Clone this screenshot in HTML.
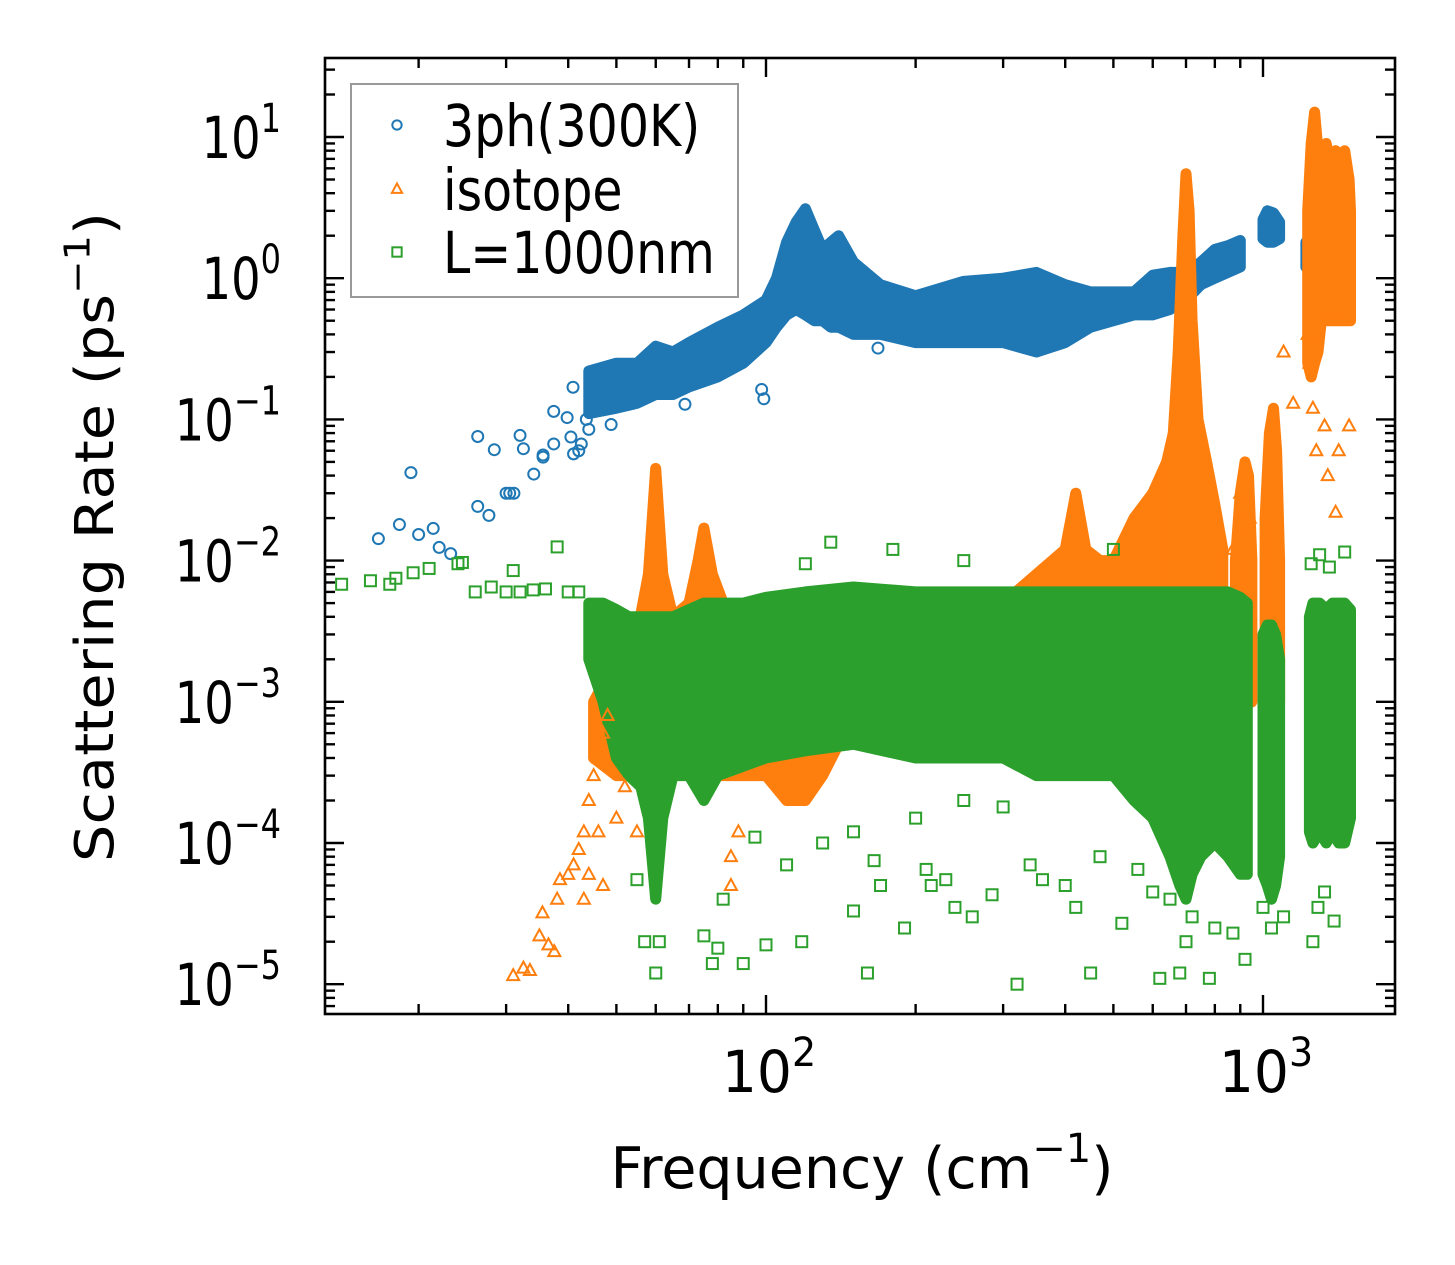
<!DOCTYPE html>
<html><head><meta charset="utf-8">
<style>
html,body{margin:0;padding:0;background:#fff;}
svg{display:block;}
text{font-family:"DejaVu Sans","Liberation Sans",sans-serif;fill:#000;}
</style></head>
<body>
<svg id="chart" width="1455" height="1265" viewBox="0 0 1455 1265" xmlns="http://www.w3.org/2000/svg">
<rect width="1455" height="1265" fill="#fff"/>
<g id="bands"></g>
<g id="points"></g>
<g id="axes"></g>
</svg>
<script>
// ---- data ----
const xTickLabels = ["2","3"];
const yTickLabels = ["1","0","−1","−2","−3","−4","−5"];
const yTickExps = [1,0,-1,-2,-3,-4,-5];
const xTickExps = [2,3];

// blue (3ph 300K) sparse points
const blueFreq = [16.6,18.3,19.3,20.0,21.4,22.0,23.2,26.3,26.3,27.7,28.4,30.0,30.5,31.1,32.0,32.5,34.1,35.6,35.6,37.4,37.4,39.8,40.9,40.5,42.5,43.5,42,46.1,48.8,53.5,68.7,98,99,132,168,44,41];
const blueRate = [0.0143,0.018,0.042,0.0153,0.0169,0.0124,0.0112,0.0757,0.0242,0.0209,0.061,0.030,0.030,0.030,0.077,0.062,0.041,0.056,0.054,0.114,0.067,0.103,0.169,0.075,0.067,0.1,0.06,0.174,0.092,0.139,0.128,0.163,0.14,0.51,0.32,0.085,0.057];
// blue dense bands
const blueBandFreq = [44,50,55,60,65,70,80,90,100,105,110,115,120,125,130,135,140,150,170,200,250,300,350,400,450,500,550,600,650,700,750,800,850,900];
const blueBandLo = [0.11,0.12,0.13,0.15,0.15,0.17,0.2,0.25,0.35,0.45,0.55,0.6,0.55,0.5,0.5,0.45,0.45,0.4,0.4,0.35,0.35,0.35,0.3,0.35,0.45,0.5,0.55,0.55,0.6,0.7,0.9,1.0,1.1,1.2];
const blueBandHi = [0.22,0.25,0.25,0.33,0.3,0.35,0.45,0.55,0.7,1.0,1.8,2.5,3.1,2.2,1.6,1.8,2.0,1.3,0.9,0.75,0.95,1.0,1.1,0.9,0.8,0.8,0.8,1.05,1.1,1.1,1.3,1.6,1.7,1.85];
const blueBand2Freq = [1000,1020,1050,1080];
const blueBand2Lo = [1.9,1.8,1.8,1.9];
const blueBand2Hi = [2.6,3.0,2.9,2.5];
const blueBand3Freq = [1220,1300,1400,1500];
const blueBand3Lo = [1.2,1.2,1.3,1.5];
const blueBand3Hi = [1.8,2.0,2.3,2.4];

// orange (isotope) sparse points
const orangeFreq = [31,32.5,33.5,35,35.5,36.5,37.5,38,38.5,40,41,42,43,44,45,46,47,48,43,44,46,47,50,52,55,85,88,85,1100,1150,1240,1260,1280,1330,1350,1400,1420,1490,1230,870,900,940];
const orangeRate = [1.15e-5,1.3e-5,1.25e-5,2.2e-5,3.2e-5,1.9e-5,1.7e-5,4e-5,5.5e-5,6e-5,7e-5,9e-5,1.2e-4,2e-4,3e-4,4e-4,6e-4,8e-4,4e-5,6e-5,1.2e-4,5e-5,1.5e-4,2.5e-4,1.2e-4,8e-5,1.2e-4,5e-5,0.3,0.13,0.25,0.12,0.06,0.09,0.04,0.022,0.06,0.09,0.4,0.012,0.03,0.02];
// orange dense bands
const orBand1Freq = [45,50,55,58,60,62,65,70,73,75,78,82,90,100,110,120,130,140];
const orBand1Lo = [4e-4,3e-4,3e-4,3e-4,2e-4,3e-4,4e-4,4e-4,3e-4,3e-4,3e-4,3e-4,3e-4,3e-4,2e-4,2e-4,3e-4,5e-4];
const orBand1Hi = [1e-3,2e-3,3e-3,8e-3,0.045,8e-3,4e-3,5e-3,0.01,0.017,0.008,0.005,3e-3,2e-3,1.5e-3,1.5e-3,1.5e-3,1.5e-3];
const orBand2Freq = [150,200,250,300,350,400,420,440,470,500,550,600,640,660];
const orBand2Lo = [5e-4,5e-4,5e-4,5e-4,5e-4,5e-4,5e-4,5e-4,5e-4,5e-4,5e-4,5e-4,5e-4,5e-4];
const orBand2Hi = [2e-3,2e-3,3e-3,5e-3,8e-3,0.012,0.03,0.012,0.01,0.01,0.02,0.03,0.05,0.08];
const orBand3Freq = [660,675,690,700,710,720,740,770,800,830];
const orBand3Lo = [5e-4,5e-4,5e-4,5e-4,5e-4,5e-4,5e-4,5e-4,5e-4,5e-4];
const orBand3Hi = [0.08,0.3,2.0,5.5,3.0,0.5,0.1,0.05,0.025,0.012];
const orBand4Freq = [880,900,920,935,950];
const orBand4Lo = [1e-3,1e-3,1e-3,1e-3,1e-3];
const orBand4Hi = [0.01,0.03,0.05,0.04,0.01];
const orBand5Freq = [1010,1030,1050,1065,1080];
const orBand5Lo = [1e-3,1e-3,1e-3,1e-3,1e-3];
const orBand5Hi = [0.02,0.08,0.12,0.06,0.01];
const orBand6Freq = [1230,1250,1270,1290,1310,1340,1370,1400,1430,1460,1490,1500];
const orBand6Lo = [0.25,0.2,0.25,0.3,0.5,0.5,0.5,0.5,0.5,0.5,0.5,0.5];
const orBand6Hi = [3,9,15,8,5,9,6,8,4,8,5,3];

// green (L=1000nm) sparse points
const greenFreq = [14,16,17.5,18,19.5,21,24,24.5,26,28,30,31,32,34,36,38,40,42,55,57,60,61,75,78,80,82,90,100,110,118,150,160,165,170,190,210,215,230,240,260,285,320,340,360,400,420,450,470,520,560,600,620,650,680,700,720,780,800,870,920,1000,1040,1260,1290,1330,1390,150,200,250,300,130,95,135,120,180,250,500,1300,1460,1250,1360,1100];
const greenRate = [0.0068,0.0072,0.0068,0.0075,0.0082,0.0088,0.0095,0.0097,0.006,0.0065,0.006,0.0085,0.006,0.0062,0.0063,0.0125,0.006,0.006,5.5e-5,2e-5,1.2e-5,2e-5,2.2e-5,1.4e-5,1.8e-5,4e-5,1.4e-5,1.9e-5,7e-5,2e-5,3.3e-5,1.2e-5,7.5e-5,5e-5,2.5e-5,6.5e-5,5e-5,5.5e-5,3.5e-5,3e-5,4.3e-5,1e-5,7e-5,5.5e-5,5e-5,3.5e-5,1.2e-5,8e-5,2.7e-5,6.5e-5,4.5e-5,1.1e-5,4e-5,1.2e-5,2e-5,3e-5,1.1e-5,2.5e-5,2.3e-5,1.5e-5,3.5e-5,2.5e-5,2e-5,3.5e-5,4.5e-5,2.8e-5,1.2e-4,1.5e-4,2e-4,1.8e-4,1e-4,1.1e-4,0.0135,0.0095,0.012,0.01,0.012,0.011,0.0115,0.0095,0.009,3e-5];
// green dense bands
const grBand1Freq = [44,47,50,53,56,58,60,62,65,70,75,80,90,100,120,150,200,250,300,350,400,450,500,550,600,650,680,700,720,750,800,850,900,930];
const grBand1Lo = [2e-3,1e-3,4e-4,3e-4,2.5e-4,1.5e-4,4e-5,1.5e-4,3e-4,3e-4,2e-4,3e-4,3.5e-4,4e-4,4.5e-4,5e-4,4e-4,4e-4,4e-4,3e-4,3e-4,3e-4,3e-4,2e-4,1.5e-4,8e-5,5e-5,4e-5,6e-5,8e-5,1e-4,8e-5,6e-5,6e-5];
const grBand1Hi = [5e-3,5e-3,4.5e-3,4e-3,4e-3,4e-3,4e-3,4e-3,4e-3,4.5e-3,5e-3,5e-3,5e-3,5.5e-3,6e-3,6.5e-3,6e-3,6e-3,6e-3,6e-3,6e-3,6e-3,6e-3,6e-3,6e-3,6e-3,6e-3,6e-3,6e-3,6e-3,6e-3,6e-3,5.5e-3,5e-3];
const grBand2Freq = [1000,1020,1040,1060,1080];
const grBand2Lo = [6e-5,5e-5,4e-5,5e-5,8e-5];
const grBand2Hi = [3e-3,3.5e-3,3.5e-3,3e-3,2e-3];
const grBand3Freq = [1240,1260,1300,1340,1380,1420,1460,1500];
const grBand3Lo = [1.2e-4,1e-4,1.2e-4,1e-4,1.2e-4,1e-4,1e-4,1.5e-4];
const grBand3Hi = [4e-3,5e-3,5e-3,4.5e-3,5e-3,5e-3,5e-3,4.5e-3];

// ---- axes ----
const PL=325, PR=1395, PT=58, PB=1014;
const X2=766, XDEC=497;
const Y1=137, YDEC=141.2;
function xs(f){ return X2 + (Math.log10(f)-2)*XDEC; }
function ys(r){ return Y1 + (1-Math.log10(r))*YDEC; }

const NS="http://www.w3.org/2000/svg";
function mk(tag, attrs, parent){
  const e=document.createElementNS(NS,tag);
  for(const k in attrs) e.setAttribute(k,attrs[k]);
  parent.appendChild(e); return e;
}
const C_B="#1f77b4", C_O="#ff7f0e", C_G="#2ca02c";
const bands=document.getElementById('bands');
const pts=document.getElementById('points');
const axes=document.getElementById('axes');

function drawBand(fr, lo, hi, color, name){
  let d="";
  for(let i=0;i<fr.length;i++) d+=(i?"L":"M")+xs(fr[i]).toFixed(1)+","+ys(hi[i]).toFixed(1);
  for(let i=fr.length-1;i>=0;i--) d+="L"+xs(fr[i]).toFixed(1)+","+ys(lo[i]).toFixed(1);
  d+="Z";
  const p=mk('path',{d:d,fill:color,stroke:color,'stroke-width':11,'stroke-linejoin':'round'},bands);
  
  
}
function marker(kind, x, y, color, parent, sc){
  let e;
  if(kind==='o') e=mk('circle',{cx:x,cy:y,r:5.5*sc,fill:'none',stroke:color,'stroke-width':2},parent);
  else if(kind==='^') e=mk('polygon',{points:`${x},${y-6.5*sc} ${x-6*sc},${y+4.5*sc} ${x+6*sc},${y+4.5*sc}`,fill:'none',stroke:color,'stroke-width':2},parent);
  else e=mk('rect',{x:x-5.5*sc,y:y-5.5*sc,width:11*sc,height:11*sc,fill:'none',stroke:color,'stroke-width':2},parent);
  return e;
}
function drawPoints(fr, rt, kind, color, name){
  for(let i=0;i<fr.length;i++){
    const e=marker(kind, xs(fr[i]), ys(rt[i]), color, pts, 1);
    
    
  }
}
// blue
drawBand(blueBandFreq,blueBandLo,blueBandHi,C_B,'3ph-band-main');
drawBand(blueBand2Freq,blueBand2Lo,blueBand2Hi,C_B,'3ph-band-1000');
drawBand(blueBand3Freq,blueBand3Lo,blueBand3Hi,C_B,'3ph-band-1300');
drawPoints(blueFreq,blueRate,'o',C_B,'3ph-point');
// orange
drawBand(orBand1Freq,orBand1Lo,orBand1Hi,C_O,'isotope-band-low');
drawBand(orBand2Freq,orBand2Lo,orBand2Hi,C_O,'isotope-band-mid');
drawBand(orBand3Freq,orBand3Lo,orBand3Hi,C_O,'isotope-band-peak700');
drawBand(orBand4Freq,orBand4Lo,orBand4Hi,C_O,'isotope-band-900');
drawBand(orBand5Freq,orBand5Lo,orBand5Hi,C_O,'isotope-band-1050');
drawBand(orBand6Freq,orBand6Lo,orBand6Hi,C_O,'isotope-band-1300');
drawPoints(orangeFreq,orangeRate,'^',C_O,'isotope-point');
// green
drawBand(grBand1Freq,grBand1Lo,grBand1Hi,C_G,'boundary-band-main');
drawBand(grBand2Freq,grBand2Lo,grBand2Hi,C_G,'boundary-band-1050');
drawBand(grBand3Freq,grBand3Lo,grBand3Hi,C_G,'boundary-band-1300');
drawPoints(greenFreq,greenRate,'s',C_G,'boundary-point');

// clip: white out anything beyond frame
mk('rect',{x:0,y:0,width:1455,height:PT,fill:'#fff'},axes);
mk('rect',{x:PR,y:0,width:60,height:1265,fill:'#fff'},axes);

// frame
const fr=mk('rect',{x:PL,y:PT,width:PR-PL,height:PB-PT,fill:'none',stroke:'#000','stroke-width':2.6},axes);



// ticks
function tick(x1,y1,x2,y2){ mk('line',{x1:x1,y1:y1,x2:x2,y2:y2,stroke:'#000','stroke-width':2.4},axes); }
const MAJ=19, MIN=10;
for(let e=1;e<=3;e++){
  for(let m=1;m<10;m++){
    const x=xs(m*Math.pow(10,e));
    if(x<PL||x>PR) continue;
    const L=(m===1)?MAJ:MIN;
    tick(x,PB,x,PB-L); tick(x,PT,x,PT+L);
  }
}
for(let e=-6;e<=1;e++){
  for(let m=1;m<10;m++){
    const y=ys(m*Math.pow(10,e));
    if(y<PT||y>PB) continue;
    const L=(m===1)?MAJ:MIN;
    tick(PL,y,PL+L,y); tick(PR,y,PR-L,y);
  }
}
// tick labels
function powLabel(cx, baseY, exp, anchor, name, sx){
  const t=mk('text',{'font-size':58,'text-anchor':anchor,transform:`translate(${cx},${baseY}) scale(${sx},1)`},axes);
  
  
  t.appendChild(document.createTextNode('10'));
  const s=mk('tspan',{'font-size':40,dy:-26},t);
  s.textContent=exp;
  return t;
}
for(let i=0;i<yTickExps.length;i++){
  powLabel(281, ys(Math.pow(10,yTickExps[i]))+21, yTickLabels[i], 'end', 'y-tick-label', 0.8);
}
for(let i=0;i<xTickExps.length;i++){
  powLabel(xs(Math.pow(10,xTickExps[i]))+3, 1092, xTickLabels[i], 'middle', 'x-tick-label', 0.95);
}
// axis titles
const xt=mk('text',{'font-size':57,'text-anchor':'middle',transform:'translate(862,1188) scale(1.0,1)'},axes);


xt.appendChild(document.createTextNode('Frequency (cm'));
let sp=mk('tspan',{'font-size':40,dy:-26},xt); sp.textContent='−1';
sp=mk('tspan',{dy:26},xt); sp.textContent=')';

const yt=mk('text',{'font-size':59,'text-anchor':'middle',transform:'translate(113,537) rotate(-90) scale(1,0.9)'},axes);


yt.appendChild(document.createTextNode('Scattering Rate (ps'));
sp=mk('tspan',{'font-size':40,dy:-26},yt); sp.textContent='−1';
sp=mk('tspan',{dy:26},yt); sp.textContent=')';

// legend
const lg=mk('g',{},axes);


mk('rect',{x:351,y:84,width:387,height:213,fill:'#fff','fill-opacity':0.85,stroke:'#999','stroke-width':2},lg);
const legLabels=['3ph(300K)','isotope','L=1000nm'];
const legKinds=['o','^','s'];
const legColors=[C_B,C_O,C_G];
const legY=[125,189,252];
for(let i=0;i<3;i++){
  const g=mk('g',{},lg);
  
  
  marker(legKinds[i],397,legY[i],legColors[i],g,0.85);
  const t=mk('text',{'font-size':58,transform:`translate(443,${legY[i]+21}) scale(0.845,1)`},g);
  t.textContent=legLabels[i];
}
</script>
</body></html>
